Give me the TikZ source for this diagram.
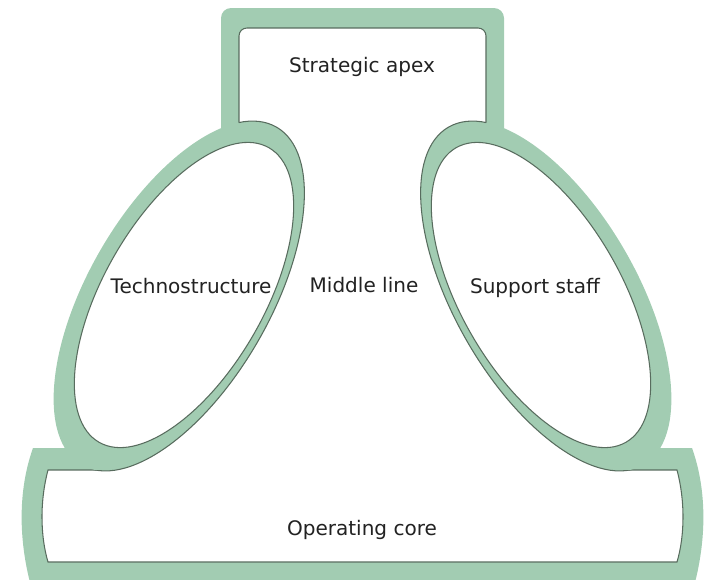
\documentclass[tikz,border=0pt]{standalone}
\usepackage{fontspec}
\setmainfont{DejaVu Sans}
\definecolor{sauge}{RGB}{162,204,178}
\definecolor{trait}{RGB}{88,108,94}
\definecolor{texte}{RGB}{34,34,34}
\begin{document}
\begin{tikzpicture}[x=0.02cm,y=-0.02cm,
    bord/.style={draw=trait,line width=0.6pt},
    etiquette/.style={text=texte,font=\fontsize{11.4}{13.7}\selectfont,anchor=base,inner sep=0pt}]
    \useasboundingbox (0,0) rectangle (706,579);
    \def\zoneblanche{(48,470) .. controls (40,500) and (40,535) .. (48,562) -- (677,562) .. controls (685,535) and (685,500) .. (677,470) -- (618,470) -- (618,300) -- (486,130) [rounded corners=4.5pt] -- (486,28) -- (239,28) -- (239,130) [sharp corners] -- (107,300) -- (107,470) -- cycle}
    % fond vert : sommet et base
    \fill [sauge,rounded corners=5.7pt] (221,8) rectangle (504,220);
    \fill [sauge] (33,448) -- (692,448) .. controls (707,490) and (707,540) .. (693,590) -- (32,590) .. controls (18,540) and (18,490) .. (33,448) -- cycle;
    \fill [white] \zoneblanche;
    \draw [bord] (239,140) [rounded corners=4.5pt] -- (239,28) -- (486,28) -- (486,140);
    \draw [bord] (107,470) -- (48,470) .. controls (40,500) and (40,535) .. (48,562) -- (677,562) .. controls (685,535) and (685,500) .. (677,470) -- (618,470);
    % ellipses exterieures
    \fill [sauge] (179,296) ellipse [x radius=91, y radius=195, rotate=-30];
    \fill [sauge] (546,296) ellipse [x radius=91, y radius=195, rotate=30];
    \begin{scope}
        \clip \zoneblanche;
        \draw [bord] (179,296) ellipse [x radius=91, y radius=195, rotate=-30];
        \draw [bord] (546,296) ellipse [x radius=91, y radius=195, rotate=30];
    \end{scope}
    % ellipses interieures
    \filldraw [fill=white,bord] (184,295) ellipse [x radius=80, y radius=170, rotate=-30];
    \filldraw [fill=white,bord] (541,295) ellipse [x radius=80, y radius=170, rotate=30];
    % textes
    \node [etiquette] (apex) at (362,72) {Strategic apex};
    \node [etiquette] (techno) at (191,293) {Technostructure};
    \node [etiquette] (middle) at (364,292) {Middle line};
    \node [etiquette] (support) at (535,293) {Support staff};
    \node [etiquette] (core) at (362,535) {Operating core};
\end{tikzpicture}
\end{document}
